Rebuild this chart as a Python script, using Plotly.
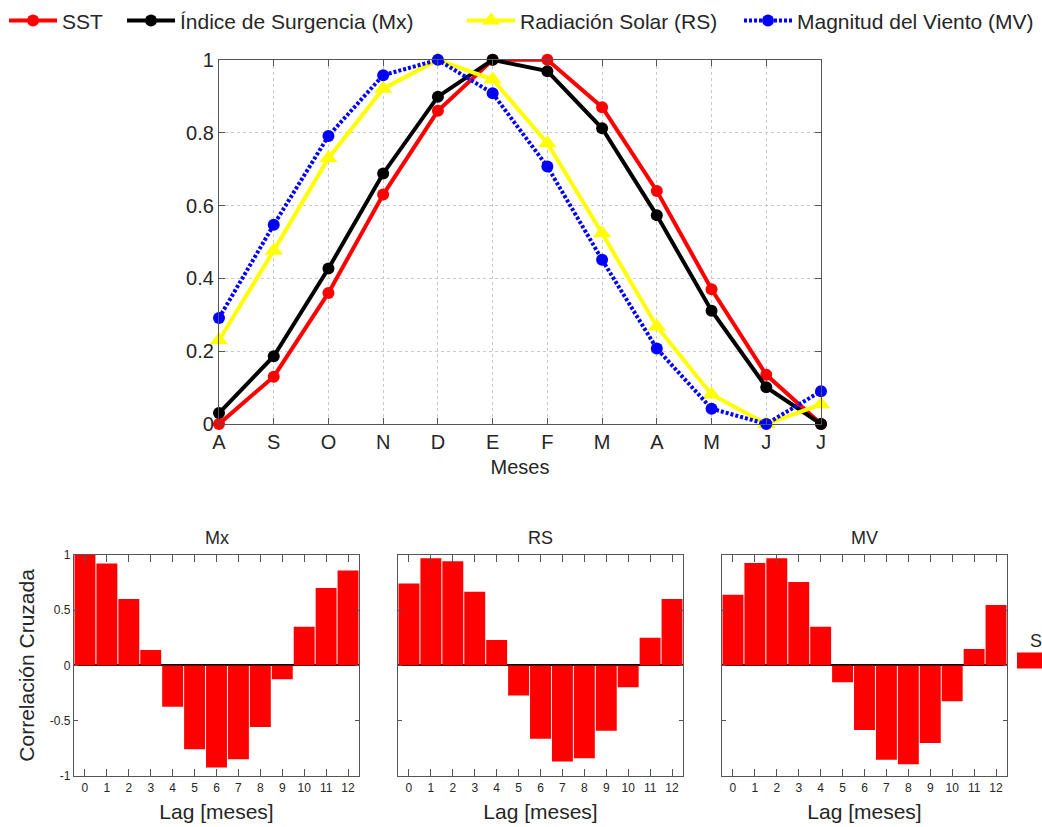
import plotly.graph_objects as go

# ---------------- data ----------------
months = ["A", "S", "O", "N", "D", "E", "F", "M", "A", "M", "J", "J"]
sst = [0.0, 0.13, 0.36, 0.63, 0.86, 1.0, 1.0, 0.87, 0.64, 0.37, 0.135, 0.0]
mx = [0.03, 0.186, 0.427, 0.688, 0.899, 1.0, 0.969, 0.812, 0.573, 0.311, 0.101, 0.0]
rs = [0.23, 0.476, 0.73, 0.921, 1.0, 0.946, 0.771, 0.524, 0.268, 0.081, 0.0, 0.054]
mv = [0.291, 0.547, 0.791, 0.958, 1.0, 0.908, 0.707, 0.451, 0.207, 0.042, 0.0, 0.09]

lags = list(range(13))
corr_mx = [1.0, 0.92, 0.60, 0.138, -0.374, -0.757, -0.922, -0.847, -0.557, -0.126, 0.35, 0.70, 0.856]
corr_rs = [0.74, 0.967, 0.94, 0.665, 0.23, -0.272, -0.662, -0.868, -0.838, -0.59, -0.198, 0.25, 0.60]
corr_mv = [0.638, 0.925, 0.967, 0.754, 0.35, -0.153, -0.584, -0.853, -0.892, -0.70, -0.323, 0.147, 0.545]

panel_titles = ["Mx", "RS", "MV"]
series_names = ["SST", "Índice de Surgencia (Mx)", "Radiación Solar (RS)", "Magnitud del Viento (MV)"]

W, H = 1042, 827
FONT = "Liberation Sans, Arial, sans-serif"
TXT = "#262626"
FRAME = "#555555"

def px(x):
    return x / W

def py(y):
    return 1 - y / H

fig = go.Figure()
xi = list(range(len(months)))

line_specs = [
    (sst, "red", "solid", "circle", 12, "legend"),
    (mx, "black", "solid", "circle", 12, "legend2"),
    (rs, "#FFFF00", "solid", "triangle-up", 16, "legend3"),
    (mv, "blue", "3px,2px", "circle", 12, "legend4"),
]
for (vals, col, dash, sym, ms, lg), name in zip(line_specs, series_names):
    fig.add_trace(go.Scatter(
        x=xi, y=vals, name=name, mode="lines+markers",
        line=dict(color=col, width=4, dash=dash),
        marker=dict(color=col, size=ms, symbol=sym),
        cliponaxis=False, legend=lg, xaxis="x", yaxis="y",
    ))

for i, vals in enumerate([corr_mx, corr_rs, corr_mv]):
    fig.add_trace(go.Bar(
        x=lags, y=vals, width=0.955, marker=dict(color="#FF0000", line=dict(width=0)),
        showlegend=False, xaxis=f"x{i+2}", yaxis=f"y{i+2}",
    ))

layout = dict(
    width=W, height=H,
    margin=dict(l=0, r=0, t=0, b=0),
    paper_bgcolor="white", plot_bgcolor="white",
    font=dict(family=FONT, color=TXT),
    showlegend=True,
)

common_axis = dict(showline=True, linecolor=FRAME, linewidth=1.2, mirror="ticks",
                   ticks="inside", ticklen=6, tickcolor=FRAME, automargin=False,
                   zeroline=False)

layout["xaxis"] = dict(common_axis, domain=[px(219), px(821)], range=[0, 11],
                       tickvals=xi, ticktext=months, tickfont=dict(size=20),
                       showgrid=True, gridcolor="#c8c8c8", griddash="dot", gridwidth=1,
                       title=dict(text="Meses", font=dict(size=20), standoff=7),
                       anchor="y")
layout["yaxis"] = dict(common_axis, domain=[py(423), py(58)], range=[0, 1],
                       tickvals=[0, 0.2, 0.4, 0.6, 0.8, 1], ticktext=["0", "0.2", "0.4", "0.6", "0.8", "1"],
                       tickfont=dict(size=20), showgrid=True, gridcolor="#c8c8c8",
                       griddash="dot", gridwidth=1, anchor="x")

bx = [(74, 359), (398, 683), (722, 1007)]
for i, (x0, x1) in enumerate(bx):
    n = i + 2
    layout[f"xaxis{n}"] = dict(common_axis, domain=[px(x0), px(x1)], range=[-0.5, 12.5],
                               tickvals=lags, tickfont=dict(size=12), ticklen=7,
                               showgrid=False, anchor=f"y{n}",
                               title=dict(text="Lag [meses]", font=dict(size=21), standoff=10))
    layout[f"yaxis{n}"] = dict(common_axis, domain=[py(776), py(554)], range=[-1, 1],
                               tickvals=[-1, -0.5, 0, 0.5, 1], ticktext=["-1", "-0.5", "0", "0.5", "1"],
                               tickfont=dict(size=12), ticklen=4, showgrid=False,
                               showticklabels=(i == 0), anchor=f"x{n}",
                               zeroline=True, zerolinecolor="black", zerolinewidth=1.5,
                               layer="above traces")
layout["yaxis2"]["title"] = dict(text="Correlación Cruzada", font=dict(size=21), standoff=9)

legend_x = [4, 122, 462, 739]
for i, lx in enumerate(legend_x):
    key = "legend" if i == 0 else f"legend{i+1}"
    layout[key] = dict(x=px(lx), y=py(19), xanchor="left", yanchor="middle",
                       orientation="h", font=dict(size=21, family=FONT, color=TXT),
                       bgcolor="rgba(0,0,0,0)", itemwidth=48, tracegroupgap=0)

annotations = []
for (x0, x1), t in zip(bx, panel_titles):
    annotations.append(dict(text=t, x=px((x0 + x1) / 2), y=py(537), xref="paper", yref="paper",
                            showarrow=False, font=dict(size=18, color=TXT), xanchor="center", yanchor="middle"))
# clipped legend of the bar panels at the right edge (only its first letter is visible)
annotations.append(dict(text="S", x=px(1044), y=py(641), xref="paper", yref="paper",
                        showarrow=False, font=dict(size=18, color=TXT), xanchor="right", yanchor="middle"))
layout["annotations"] = annotations
layout["shapes"] = [dict(type="rect", xref="paper", yref="paper", x0=px(1017), x1=px(1050),
                         y0=py(668), y1=py(652), fillcolor="#FF0000", line=dict(width=0))]

fig.update_layout(**layout)
fig.write_html("out.html", config={"displayModeBar": False},
               post_script="document.body.style.margin='0';")
